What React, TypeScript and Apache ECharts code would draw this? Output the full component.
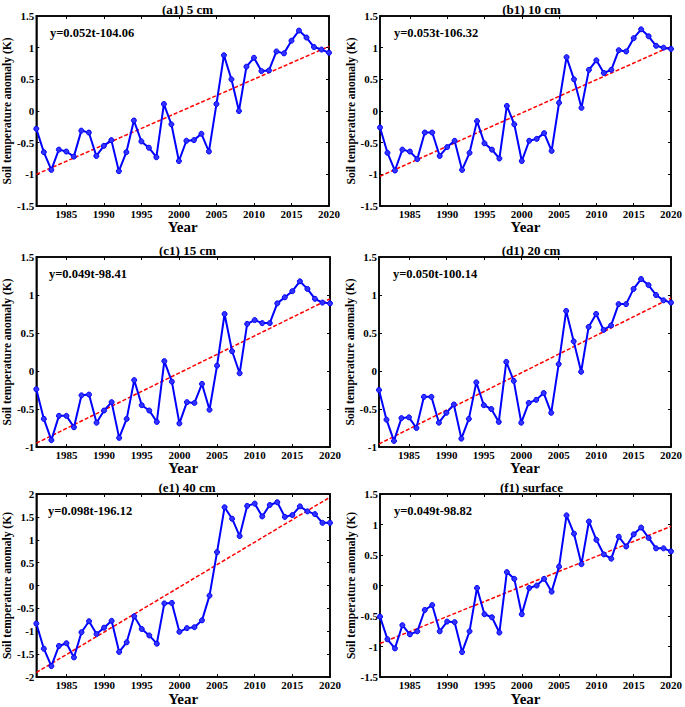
import React, { useEffect, useRef } from "react";
import * as echarts from "echarts";

const years = Array.from({ length: 40 }, (_, i) => 1981 + i);
const xTickValues = [1985, 1990, 1995, 2000, 2005, 2010, 2015, 2020];

const titles = ["(a1) 5 cm", "(b1) 10 cm", "(c1) 15 cm", "(d1) 20 cm", "(e1) 40 cm", "(f1) surface"];
const equations = ["y=0.052t-104.06", "y=0.053t-106.32", "y=0.049t-98.41", "y=0.050t-100.14", "y=0.098t-196.12", "y=0.049t-98.82"];

const cm5 = [-0.28, -0.65, -0.93, -0.61, -0.64, -0.72, -0.31, -0.34, -0.71, -0.55, -0.46, -0.95, -0.65, -0.15, -0.48, -0.58, -0.73, 0.11, -0.21, -0.79, -0.47, -0.46, -0.36, -0.64, 0.11, 0.88, 0.50, 0.00, 0.70, 0.84, 0.63, 0.64, 0.94, 0.91, 1.11, 1.27, 1.16, 1.01, 0.97, 0.92];
const cm10 = [-0.26, -0.66, -0.94, -0.61, -0.64, -0.76, -0.34, -0.34, -0.71, -0.57, -0.47, -0.93, -0.66, -0.16, -0.51, -0.61, -0.75, 0.08, -0.21, -0.79, -0.47, -0.44, -0.35, -0.63, 0.13, 0.85, 0.50, 0.05, 0.65, 0.80, 0.60, 0.65, 0.96, 0.94, 1.15, 1.29, 1.18, 1.03, 1.00, 0.98];
const cm15 = [-0.24, -0.63, -0.91, -0.59, -0.59, -0.74, -0.32, -0.31, -0.68, -0.52, -0.41, -0.88, -0.63, -0.12, -0.45, -0.52, -0.67, 0.13, -0.14, -0.69, -0.41, -0.42, -0.17, -0.51, 0.07, 0.75, 0.26, -0.03, 0.62, 0.67, 0.63, 0.63, 0.89, 0.97, 1.05, 1.18, 1.08, 0.95, 0.90, 0.89];
const cm20 = [-0.25, -0.64, -0.92, -0.62, -0.61, -0.75, -0.34, -0.34, -0.68, -0.55, -0.44, -0.89, -0.63, -0.15, -0.45, -0.50, -0.67, 0.12, -0.13, -0.68, -0.42, -0.38, -0.29, -0.55, 0.09, 0.79, 0.39, -0.01, 0.58, 0.75, 0.54, 0.60, 0.88, 0.88, 1.08, 1.21, 1.13, 1.00, 0.93, 0.90];
const cm40 = [-0.83, -1.38, -1.76, -1.32, -1.26, -1.57, -1.02, -0.78, -1.06, -0.92, -0.77, -1.45, -1.24, -0.67, -0.95, -1.09, -1.27, -0.39, -0.38, -1.01, -0.93, -0.91, -0.76, -0.22, 0.73, 1.71, 1.46, 1.08, 1.74, 1.79, 1.51, 1.76, 1.82, 1.50, 1.54, 1.73, 1.62, 1.56, 1.37, 1.37];
const surface = [-0.51, -0.88, -1.03, -0.65, -0.80, -0.75, -0.40, -0.32, -0.75, -0.59, -0.60, -1.09, -0.75, -0.04, -0.47, -0.52, -0.77, 0.22, 0.11, -0.47, -0.04, 0.00, 0.11, -0.10, 0.31, 1.15, 0.85, 0.35, 1.05, 0.75, 0.51, 0.44, 0.80, 0.64, 0.84, 0.95, 0.78, 0.61, 0.61, 0.56];

// trend line end values (at 1981 and 2020)
const trendStart = [-1.0, -1.03, -0.95, -0.96, -1.9, -0.95];
const trendEnd = [1.02, 1.02, 0.95, 0.96, 1.93, 0.97];

const yMins = [-1.5, -1.5, -1, -1, -2, -1.5];
const yMaxs = [1.5, 1.5, 1.5, 1.5, 2, 1.5];

const FONT = "'Liberation Serif', 'Times New Roman', serif";

const gridBoxes = [
  { left: 36, top: 16, width: 293, height: 190 },
  { left: 380, top: 16, width: 293, height: 190 },
  { left: 35, top: 257, width: 295, height: 190 },
  { left: 379, top: 257, width: 294, height: 190 },
  { left: 34, top: 494, width: 296, height: 190 },
  { left: 380, top: 494, width: 293, height: 190 },
];

export default function App() {
  const ref = useRef<HTMLDivElement>(null);
  useEffect(() => {
    if (!ref.current) return;
    const chart = echarts.init(ref.current, null, { renderer: "svg" });
    const allData = [cm5, cm10, cm15, cm20, cm40, surface];
    const grid: any[] = [];
    const xAxis: any[] = [];
    const yAxis: any[] = [];
    const series: any[] = [];
    const title: any[] = [];
    const graphic: any[] = [];
    const axisLine = { show: true, onZero: false, lineStyle: { color: "#000", width: 1.5 } };
    const tick = { show: true, inside: true, length: 3, lineStyle: { color: "#000", width: 1 } };
    gridBoxes.forEach((g, i) => {
      grid.push({ ...g, containLabel: false, show: true, borderColor: "#000", borderWidth: 1.5, backgroundColor: "transparent" });
      xAxis.push({
        type: "value", gridIndex: i, min: 1981, max: 2020, position: "bottom",
        axisLine, axisTick: { ...tick, customValues: xTickValues },
        axisLabel: { customValues: xTickValues, formatter: (v: number) => String(v), fontFamily: FONT, fontWeight: "bold", fontSize: 11, color: "#000", margin: 2 },
        splitLine: { show: false },
        name: "Year", nameLocation: "middle", nameGap: 10,
        nameTextStyle: { fontFamily: FONT, fontWeight: "bold", fontSize: 15, color: "#000", verticalAlign: "top" },
      });
      xAxis.push({
        type: "value", gridIndex: i, min: 1981, max: 2020, position: "top",
        axisLine, axisTick: { ...tick, customValues: xTickValues },
        axisLabel: { show: false }, splitLine: { show: false },
      });
      yAxis.push({
        type: "value", gridIndex: i, min: yMins[i], max: yMaxs[i], interval: 0.5, position: "left",
        axisLine, axisTick: tick,
        axisLabel: { fontFamily: FONT, fontWeight: "bold", fontSize: 11, color: "#000", margin: 2 },
        splitLine: { show: false },
        name: "Soil temperature anomaly (K)", nameLocation: "middle", nameGap: 23,
        nameTextStyle: { fontFamily: FONT, fontWeight: "bold", fontSize: 11.5, color: "#000" },
      });
      yAxis.push({
        type: "value", gridIndex: i, min: yMins[i], max: yMaxs[i], interval: 0.5, position: "right",
        axisLine, axisTick: tick, axisLabel: { show: false }, splitLine: { show: false },
      });
      series.push({
        type: "line", xAxisIndex: 2 * i, yAxisIndex: 2 * i,
        data: years.map((y, k) => [y, allData[i][k]]),
        symbol: "circle", symbolSize: 5,
        lineStyle: { color: "#0000ff", width: 2 },
        itemStyle: { color: "#3333ff", borderColor: "#0000ff", borderWidth: 1 },
        z: 3,
      });
      series.push({
        type: "line", xAxisIndex: 2 * i, yAxisIndex: 2 * i,
        data: [[1981, trendStart[i]], [2020, trendEnd[i]]],
        symbol: "none",
        lineStyle: { color: "#ff0000", width: 1.5, type: [4, 2] },
        z: 2,
      });
      title.push({
        text: titles[i], left: g.left + g.width / 2, top: g.top - 18, textAlign: "center",
        textStyle: { fontFamily: FONT, fontWeight: "bold", fontSize: 13, color: "#000" },
      });
      graphic.push({
        type: "text", left: g.left + 14, top: g.top + 10,
        style: { text: equations[i], font: `bold 12.5px ${FONT}`, fill: "#000" },
      });
    });
    chart.setOption({
      animation: false,
      backgroundColor: "#fff",
      grid, xAxis, yAxis, series, title, graphic,
    });
    return () => chart.dispose();
  }, []);
  return <div ref={ref} style={{ position: "absolute", left: 0, top: 0, width: 685, height: 707 }} />;
}
